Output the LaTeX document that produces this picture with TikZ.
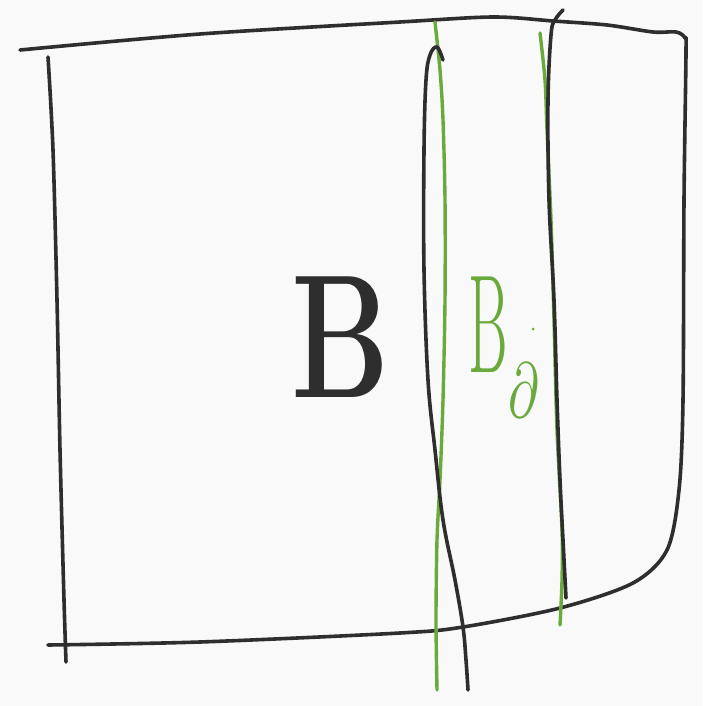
\documentclass[tikz,border=0pt]{standalone}
\usepackage{xcolor}
\usepackage{tikz}
\definecolor{pen}{HTML}{2E2E2E}
\definecolor{leaf}{HTML}{6AAA3C}
\definecolor{paper}{HTML}{F9F9F9}
\tikzset{ink/.style={draw=pen, line width=3.6pt, line cap=round, line join=round},
  greenink/.style={draw=leaf, line width=3.4pt, line cap=round, line join=round}}

\begin{document}
\begin{tikzpicture}[x=1pt, y=-1pt]
    \fill [paper] (0,0) rectangle (702,706);
    \useasboundingbox (0,0) rectangle (702,706);

    \draw [ink] plot [smooth, tension=0.5] coordinates {(20,50) (200,34) (400,22) (493,17) (553,21) (607,25) (653,32) (676,32) (685,38) (686,52) (684,200) (683,400) (679,490) (667,550) (633,583) (560,608) (463,627) (400,633) (200,642) (48,645)};
    \draw [ink] plot [smooth] coordinates {(48,57) (53,150) (57,300) (60,450) (64,600) (66,662)};

    \draw [greenink] plot [smooth] coordinates {(435,22) (440,70) (443,120) (445,200) (445,300) (443,400) (440,480) (437,540) (436,620) (437,690)};
    \draw [greenink] plot [smooth] coordinates {(540,33) (545,80) (547,130) (551,220) (554,320) (557,430) (562,530) (562,580) (560,625)};

    \draw [ink] plot [smooth, tension=0.6] coordinates {(443,60) (437,47) (430,55) (426,80) (424,150) (424,270) (428,380) (435,450) (443,520) (455,580) (463,627) (466,660) (468,690)};
    \draw [ink] plot [smooth, tension=0.6] coordinates {(563,10) (555,20) (551,35) (548,100) (549,200) (554,300) (557,400) (560,480) (563,540) (566,598)};

    \node [text=pen, inner sep=0, xscale=0.7, font=\fontsize{176}{176}\selectfont\bfseries] (bulk) at (341,337) {B};
    \node [text=leaf, inner sep=0, xscale=0.43, font=\fontsize{140}{140}\selectfont] (bdry) at (488,325) {B};
    \node [text=leaf, inner sep=0, xscale=5.2, yscale=7.8] (bdrysub) at (524,390) {$\partial$};
    \fill [leaf] (533,329) circle (1.5);
\end{tikzpicture}
\end{document}
